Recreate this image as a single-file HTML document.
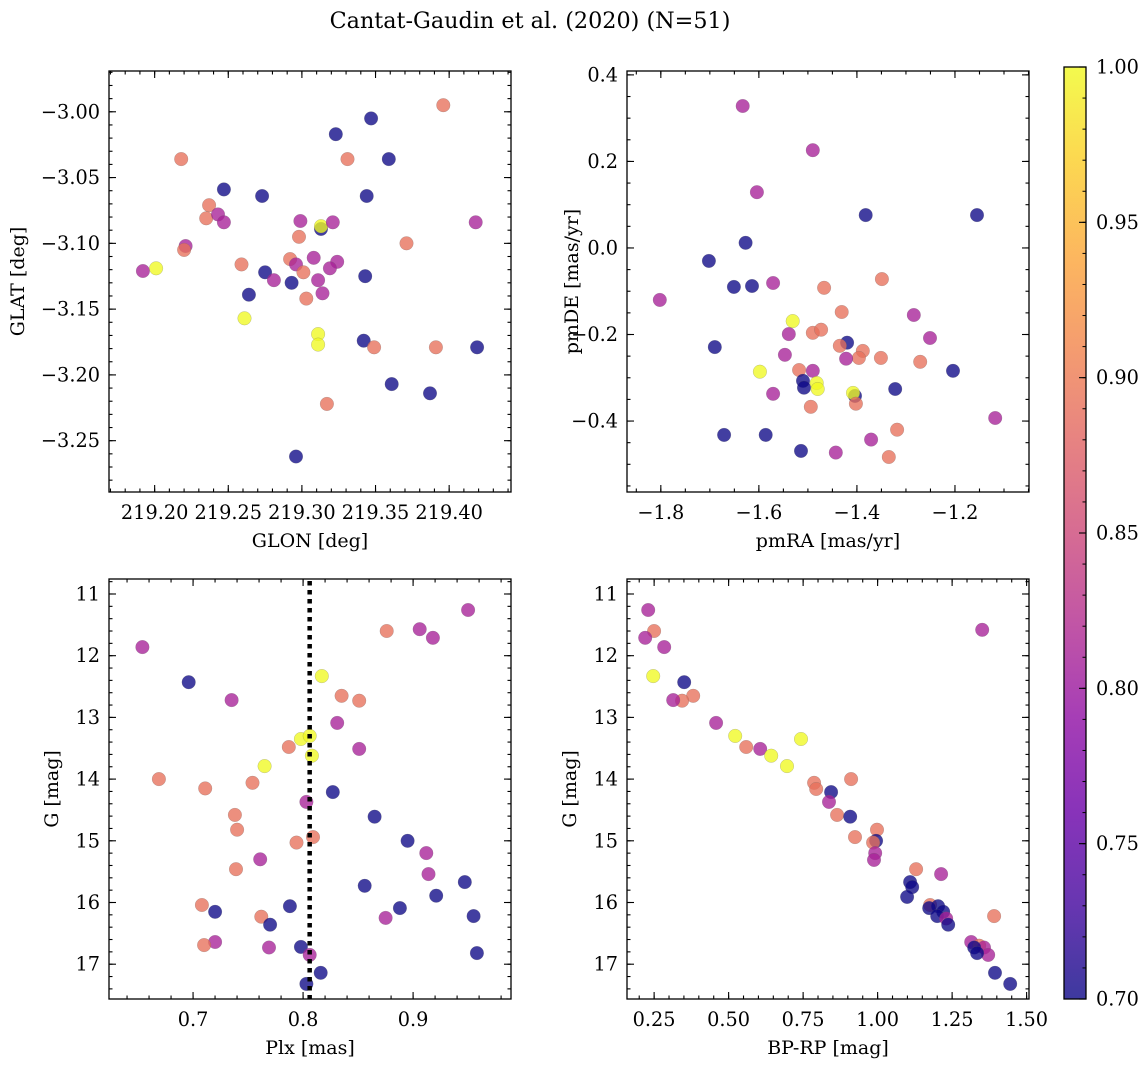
<!DOCTYPE html>
<html><head><meta charset="utf-8"><style>
body{margin:0;background:#fff;}
svg{display:block;font-family:"DejaVu Serif","Liberation Serif",serif;}
</style></head><body>
<svg id="fig" width="1148" height="1067" viewBox="0 0 1148 1067" xmlns="http://www.w3.org/2000/svg">
<defs><linearGradient id="plasma" x1="0" y1="1" x2="0" y2="0">
<stop offset="0" stop-color="#0d0887"/><stop offset="0.1" stop-color="#41049d"/><stop offset="0.2" stop-color="#6a00a8"/><stop offset="0.3" stop-color="#8f0da4"/><stop offset="0.4" stop-color="#b12a90"/><stop offset="0.5" stop-color="#cc4778"/><stop offset="0.6" stop-color="#e16462"/><stop offset="0.7" stop-color="#f2844b"/><stop offset="0.8" stop-color="#fca636"/><stop offset="0.9" stop-color="#fcce25"/><stop offset="1" stop-color="#f0f921"/>
</linearGradient></defs>
<text x="530" y="28" font-size="22.3" text-anchor="middle">Cantat-Gaudin et al. (2020) (N=51)</text>
</svg>
<script>
// membership probability classes
const B=0.70, P=0.81, O=0.89, Y=1.0;
// Panel 1: GLON / GLAT
const glon=[219.396,219.347,219.323,219.218,219.331,219.359,219.247,219.273,219.344,219.237,219.235,219.243,219.247,219.299,219.313,219.313,219.321,219.418,219.298,219.371,219.221,219.220,219.192,219.201,219.259,219.292,219.296,219.301,219.308,219.324,219.319,219.275,219.281,219.293,219.311,219.343,219.264,219.314,219.303,219.261,219.311,219.311,219.342,219.349,219.391,219.419,219.361,219.387,219.317,219.296];
const glat=[-2.995,-3.005,-3.017,-3.036,-3.036,-3.036,-3.059,-3.064,-3.064,-3.071,-3.081,-3.078,-3.084,-3.083,-3.089,-3.087,-3.084,-3.084,-3.095,-3.100,-3.102,-3.105,-3.121,-3.119,-3.116,-3.112,-3.116,-3.122,-3.111,-3.114,-3.119,-3.122,-3.128,-3.130,-3.128,-3.125,-3.139,-3.138,-3.142,-3.157,-3.169,-3.177,-3.174,-3.179,-3.179,-3.179,-3.207,-3.214,-3.222,-3.262];
const prob1=[O,B,B,O,O,B,B,B,B,O,O,P,P,P,B,Y,P,P,O,O,P,O,P,Y,O,O,P,O,P,P,P,B,P,B,P,B,B,P,O,Y,Y,Y,B,O,O,B,B,B,O,B];
// Panel 2: pmRA / pmDE
const pmra=[-1.633,-1.490,-1.604,-1.382,-1.155,-1.627,-1.702,-1.651,-1.614,-1.571,-1.802,-1.349,-1.467,-1.431,-1.284,-1.531,-1.539,-1.490,-1.473,-1.251,-1.690,-1.420,-1.435,-1.388,-1.396,-1.351,-1.422,-1.271,-1.547,-1.204,-1.598,-1.518,-1.490,-1.510,-1.508,-1.482,-1.480,-1.571,-1.322,-1.404,-1.408,-1.402,-1.494,-1.118,-1.318,-1.671,-1.586,-1.371,-1.514,-1.443,-1.335];
const pmde=[0.328,0.226,0.129,0.076,0.076,0.012,-0.030,-0.090,-0.088,-0.081,-0.120,-0.072,-0.092,-0.148,-0.155,-0.169,-0.199,-0.196,-0.189,-0.208,-0.229,-0.219,-0.226,-0.238,-0.254,-0.254,-0.256,-0.263,-0.247,-0.284,-0.286,-0.282,-0.284,-0.307,-0.323,-0.312,-0.326,-0.337,-0.326,-0.342,-0.335,-0.360,-0.367,-0.393,-0.420,-0.432,-0.432,-0.443,-0.469,-0.473,-0.483];
const prob2=[P,P,P,B,B,B,B,B,B,P,P,O,O,O,P,Y,P,O,O,P,B,B,O,O,O,O,P,O,P,B,Y,O,P,B,B,Y,Y,P,B,B,Y,O,O,P,O,B,B,P,B,P,O];
// Panel 3: Plx / G
const plx=[0.950,0.876,0.906,0.918,0.654,0.817,0.696,0.835,0.851,0.735,0.831,0.798,0.806,0.787,0.851,0.808,0.765,0.669,0.754,0.711,0.827,0.803,0.738,0.865,0.740,0.809,0.794,0.895,0.912,0.761,0.739,0.914,0.947,0.856,0.921,0.708,0.788,0.888,0.720,0.955,0.762,0.875,0.770,0.720,0.710,0.769,0.798,0.958,0.806,0.816,0.803];
const gmag3=[11.26,11.60,11.57,11.71,11.86,12.33,12.43,12.65,12.73,12.72,13.09,13.35,13.30,13.48,13.51,13.62,13.79,14.00,14.06,14.15,14.21,14.37,14.58,14.61,14.82,14.94,15.03,15.00,15.20,15.30,15.46,15.54,15.67,15.73,15.89,16.04,16.06,16.09,16.15,16.22,16.23,16.25,16.36,16.64,16.69,16.73,16.72,16.82,16.85,17.14,17.32];
const prob3=[P,O,P,P,P,Y,B,O,O,P,P,Y,Y,O,P,Y,Y,O,O,O,B,P,O,B,O,O,O,B,P,P,O,P,B,B,B,O,B,B,B,B,O,P,B,P,O,P,B,B,P,B,B];
const plxMean=0.806;
// Panel 4: BP-RP / G
const bprp=[0.230,1.351,0.250,0.220,0.284,0.247,0.351,0.381,0.344,0.314,0.458,0.522,0.743,0.559,0.606,0.643,0.696,0.911,0.787,0.794,0.844,0.837,0.864,0.908,0.998,0.924,0.995,0.985,0.992,0.988,1.129,1.213,1.109,1.116,1.099,1.176,1.203,1.173,1.220,1.200,1.391,1.230,1.237,1.314,1.341,1.357,1.324,1.371,1.334,1.394,1.445];
const gmag4=[11.26,11.58,11.60,11.71,11.86,12.33,12.43,12.65,12.73,12.72,13.09,13.30,13.35,13.48,13.51,13.62,13.79,14.00,14.06,14.16,14.21,14.37,14.58,14.61,14.82,14.94,15.00,15.03,15.20,15.31,15.46,15.54,15.67,15.75,15.91,16.04,16.06,16.09,16.15,16.22,16.22,16.26,16.36,16.64,16.70,16.73,16.73,16.85,16.82,17.14,17.32];
const prob4=[P,P,O,P,P,Y,B,O,O,P,P,Y,Y,O,P,Y,Y,O,O,O,B,P,O,B,O,O,B,O,P,P,O,P,B,B,B,O,B,B,B,B,O,P,B,P,O,P,B,P,B,B,B];
// tick labels
const cbTicks=[0.70,0.75,0.80,0.85,0.90,0.95,1.00];

const NS="http://www.w3.org/2000/svg";
const svg=document.getElementById('fig');
const TF=19.3, LF=19;
function mk(tag,attrs,parent){const e=document.createElementNS(NS,tag);for(const k in attrs)e.setAttribute(k,attrs[k]);(parent||svg).appendChild(e);return e;}
const stops=[[13,8,135],[65,4,157],[106,0,168],[143,13,164],[177,42,144],[204,71,120],[225,100,98],[242,132,75],[252,166,54],[252,206,37],[240,249,33]];
function plasma(t){t=Math.max(0,Math.min(1,t));const s=t*10,i=Math.min(9,Math.floor(s)),f=s-i;const a=stops[i],b=stops[i+1];return 'rgb('+a.map((v,k)=>Math.round(v+(b[k]-v)*f)).join(',')+')';}
function probColor(p){return plasma((p-0.70)/0.30);}
function lin(d0,d1,r0,r1){return v=>r0+(v-d0)/(d1-d0)*(r1-r0);}
function fmt(v,dp){return (v<0?'\u2212':'')+Math.abs(v).toFixed(dp);}
function range(a,b,s){const r=[];const n=Math.round((b-a)/s);for(let i=0;i<=n;i++)r.push(+(a+i*s).toFixed(6));return r;}

function panel(o){
  const g=mk('g',{});
  
  
  const X=lin(o.xd[0],o.xd[1],o.L,o.R), Yf=lin(o.yd[0],o.yd[1],o.B,o.T);
  const pg=mk('g',{},g);
  
  
  for(let i=0;i<o.xs.length;i++){
    const c=mk('circle',{cx:X(o.xs[i]).toFixed(1),cy:Yf(o.ys[i]).toFixed(1),r:6.8,fill:probColor(o.cs[i]),'fill-opacity':0.78,stroke:'#666','stroke-opacity':0.4,'stroke-width':0.5},pg);
    
    
  }
  if(o.extra)o.extra(g,X,Yf);
  const fr=mk('rect',{x:o.L,y:o.T,width:o.R-o.L,height:o.B-o.T,fill:'none',stroke:'#000','stroke-width':1.3},g);
  
  
  const tg=mk('g',{stroke:'#000','stroke-width':1.1},g);
  
  
  o.xminor.forEach(v=>{const x=X(v);if(x<o.L||x>o.R)return;mk('line',{x1:x,x2:x,y1:o.B,y2:o.B-3.5},tg);mk('line',{x1:x,x2:x,y1:o.T,y2:o.T+3.5},tg);});
  o.yminor.forEach(v=>{const y=Yf(v);if(y<o.T||y>o.B)return;mk('line',{x1:o.L,x2:o.L+3.5,y1:y,y2:y},tg);mk('line',{x1:o.R,x2:o.R-3.5,y1:y,y2:y},tg);});
  o.xmajor.forEach(v=>{const x=X(v);mk('line',{x1:x,x2:x,y1:o.B,y2:o.B-7},tg);mk('line',{x1:x,x2:x,y1:o.T,y2:o.T+7},tg);
    const t=mk('text',{x:x,y:o.B+27,'font-size':TF,'text-anchor':'middle'},g);t.textContent=fmt(v,o.xdp);
    
    });
  o.ymajor.forEach(v=>{const y=Yf(v);mk('line',{x1:o.L,x2:o.L+7,y1:y,y2:y},tg);mk('line',{x1:o.R,x2:o.R-7,y1:y,y2:y},tg);
    const t=mk('text',{x:o.L-9,y:y+6.5,'font-size':TF,'text-anchor':'end'},g);t.textContent=fmt(v,o.ydp);
    
    });
  const xl=mk('text',{x:(o.L+o.R)/2,y:o.B+55,'font-size':LF,'text-anchor':'middle'},g);xl.textContent=o.xlabel;
  
  
  const yx=o.ylx, yy=(o.T+o.B)/2;
  const yl=mk('text',{x:yx,y:yy,'font-size':LF,'text-anchor':'middle',transform:'rotate(-90 '+yx+' '+yy+')'},g);yl.textContent=o.ylabel;
  
  
}

panel({name:'glon-glat-panel',L:109,R:511,T:71,B:492,xd:[219.169,219.442],yd:[-3.289,-2.969],xs:glon,ys:glat,cs:prob1,
  xmajor:range(219.20,219.40,0.05),xminor:range(219.17,219.44,0.01),ymajor:range(-3.25,-3.00,0.05),yminor:range(-3.28,-2.97,0.01),
  xdp:2,ydp:2,xlabel:'GLON [deg]',ylabel:'GLAT [deg]',ylx:24});
panel({name:'proper-motion-panel',L:627,R:1029,T:71,B:492,xd:[-1.869,-1.049],yd:[-0.564,0.409],xs:pmra,ys:pmde,cs:prob2,
  xmajor:range(-1.8,-1.2,0.2),xminor:range(-1.85,-1.05,0.05),ymajor:range(-0.4,0.4,0.2),yminor:range(-0.55,0.40,0.05),
  xdp:1,ydp:1,xlabel:'pmRA [mas/yr]',ylabel:'pmDE [mas/yr]',ylx:578});
panel({name:'parallax-panel',L:109,R:511,T:579,B:999,xd:[0.6236,0.989],yd:[17.564,10.757],xs:plx,ys:gmag3,cs:prob3,
  xmajor:range(0.7,0.9,0.1),xminor:range(0.64,0.98,0.02),ymajor:range(11,17,1),yminor:range(10.8,17.4,0.2),
  xdp:1,ydp:0,xlabel:'Plx [mas]',ylabel:'G [mag]',ylx:58,
  extra:(g,X,Yf)=>{const l=mk('line',{x1:X(plxMean),x2:X(plxMean),y1:581,y2:999,stroke:'#000','stroke-width':4.5,'stroke-dasharray':'4.5 4.5'},g);
    
    }});
panel({name:'cmd-panel',L:627,R:1029,T:579,B:999,xd:[0.159,1.508],yd:[17.564,10.757],xs:bprp,ys:gmag4,cs:prob4,
  xmajor:range(0.25,1.50,0.25),xminor:range(0.20,1.50,0.05),ymajor:range(11,17,1),yminor:range(10.8,17.4,0.2),
  xdp:2,ydp:0,xlabel:'BP-RP [mag]',ylabel:'G [mag]',ylx:576});

// colorbar
const cbT=67,cbB=999,cbL=1064,cbR=1086;
const cg=mk('g',{});


mk('rect',{x:cbL,y:cbT,width:cbR-cbL,height:cbB-cbT,fill:'url(#plasma)','fill-opacity':0.8},cg);
mk('rect',{x:cbL,y:cbT,width:cbR-cbL,height:cbB-cbT,fill:'none',stroke:'#000','stroke-width':1.3},cg);
const CY=lin(0.70,1.00,cbB,cbT);
for(let v=0.70;v<=1.0001;v+=0.01){const y=CY(v);mk('line',{x1:cbR,x2:cbR-3.5,y1:y,y2:y,stroke:'#000'},cg);}
cbTicks.forEach(v=>{const y=CY(v);mk('line',{x1:cbR,x2:cbR-7,y1:y,y2:y,stroke:'#000','stroke-width':1.1},cg);
  const t=mk('text',{x:cbR+10,y:y+6.5,'font-size':TF},cg);t.textContent=v.toFixed(2);
  
  });
</script>
</body></html>
